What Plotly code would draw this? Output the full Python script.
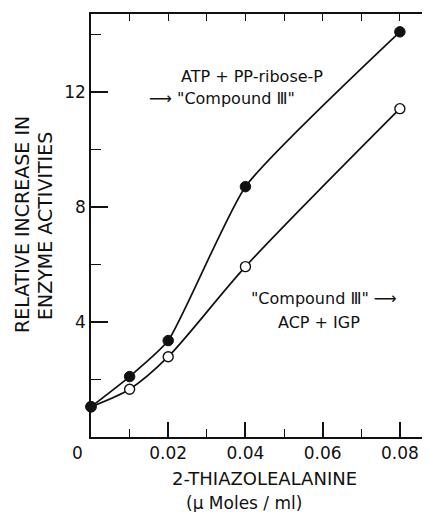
import plotly.graph_objects as go

# Data
conc = [0.0, 0.01, 0.02, 0.04, 0.08]
atp_pprp = [1.05, 2.1, 3.35, 8.7, 14.08]       # filled circles
comp3_acp = [1.05, 1.66, 2.79, 5.92, 11.41]     # open circles

x_tickvals = [0.0, 0.02, 0.04, 0.06, 0.08]
x_ticktext = ["0", "0.02", "0.04", "0.06", "0.08"]
y_tickvals = [4, 8, 12]
y_ticktext = ["4", "8", "12"]

FONT = "DejaVu Sans"
BLACK = "#111111"

fig = go.Figure()

fig.add_trace(go.Scatter(
    x=conc, y=comp3_acp, mode="lines+markers",
    line=dict(color=BLACK, width=1.7, shape="spline", smoothing=0.8),
    marker=dict(symbol="circle", size=10, color="white",
                line=dict(color=BLACK, width=1.4)),
    cliponaxis=False, showlegend=False))
fig.add_trace(go.Scatter(
    x=conc, y=atp_pprp, mode="lines+markers",
    line=dict(color=BLACK, width=1.7, shape="spline", smoothing=0.5),
    marker=dict(symbol="circle", size=10.5, color=BLACK,
                line=dict(color=BLACK, width=1)),
    cliponaxis=False, showlegend=False))
# empty trace to activate the mirrored top/right axes
fig.add_trace(go.Scatter(x=[], y=[], xaxis="x2", yaxis="y2", showlegend=False))

# pad the "0" label so it sits left of the origin, as in the original
x_labels = [t + "\u00a0" * 5 if t == "0" else t for t in x_ticktext]

XR = [0, 0.0878]
YR = [0, 14.7]

# the page body has an 8px margin, so the figure is 8px smaller
W, H = 422, 504
fig.update_layout(
    width=W, height=H,
    margin=dict(l=83, r=0, t=6, b=75, autoexpand=False),
    paper_bgcolor="white", plot_bgcolor="white",
    font=dict(family=FONT, color=BLACK, size=17),
    xaxis=dict(range=XR, showgrid=False, zeroline=False, automargin=False,
               showline=True, linecolor=BLACK, linewidth=1.5,
               tickmode="array", tickvals=x_tickvals, ticktext=x_labels,
               ticks="inside", ticklen=15, tickwidth=1.5, tickcolor=BLACK,
               minor=dict(dtick=0.01, tick0=0, ticks="inside", ticklen=8,
                          tickwidth=1.3, tickcolor=BLACK),
               tickfont=dict(size=17, family=FONT)),
    yaxis=dict(range=YR, showgrid=False, zeroline=False, automargin=False,
               showline=True, linecolor=BLACK, linewidth=1.5,
               tickmode="array", tickvals=y_tickvals, ticktext=y_ticktext,
               ticks="inside", ticklen=17, tickwidth=1.5, tickcolor=BLACK,
               minor=dict(dtick=2, tick0=0, ticks="inside", ticklen=10,
                          tickwidth=1.3, tickcolor=BLACK),
               tickfont=dict(size=17, family=FONT)),
    xaxis2=dict(range=XR, overlaying="x", side="top", anchor="y2",
                showgrid=False, zeroline=False, automargin=False,
                showline=True, linecolor=BLACK, linewidth=1.5,
                tickmode="linear", tick0=0, dtick=0.01,
                ticks="inside", ticklen=7, tickwidth=1.3, tickcolor=BLACK,
                showticklabels=False),
    yaxis2=dict(range=YR, overlaying="y", side="right", anchor="x2",
                showgrid=False, zeroline=False, showline=False, automargin=False,
                tickmode="linear", tick0=0, dtick=4,
                ticks="inside", ticklen=7, tickwidth=1.5, tickcolor=BLACK,
                minor=dict(dtick=2, tick0=0, ticks="inside", ticklen=4,
                           tickwidth=1.3, tickcolor=BLACK),
                showticklabels=False),
)

annos = [
    # axis titles (positions in reference pixels)
    dict(text="RELATIVE INCREASE IN", x=22, y=225, textangle=-90, size=19),
    dict(text="ENZYME ACTIVITIES", x=45, y=226, textangle=-90, size=19),
    dict(text="2-THIAZOLEALANINE", x=264, y=478, textangle=0, size=18),
    dict(text="(\u03bc Moles / ml)", x=244, y=503, textangle=0, size=17),
]
for a in annos:
    fig.add_annotation(
        text=a["text"], xref="paper", yref="paper",
        x=(a["x"] - 91) / 339, y=(437 - a["y"]) / 423,
        xanchor="center", yanchor="middle", textangle=a["textangle"],
        showarrow=False, font=dict(size=a["size"], family=FONT, color=BLACK))

labels = [
    ("ATP + PP-ribose-P", 0.0417, 12.52),
    ("\u27f6 \"Compound \u2162\"", 0.0340, 11.76),
    ("\"Compound \u2162\" \u27f6", 0.0604, 4.83),
    ("ACP + IGP", 0.0591, 3.97),
]
for t, x, y in labels:
    fig.add_annotation(text=t, x=x, y=y, xref="x", yref="y",
                       showarrow=False, xanchor="center", yanchor="middle",
                       font=dict(size=16, family=FONT, color=BLACK))

fig.write_html("out.html")
